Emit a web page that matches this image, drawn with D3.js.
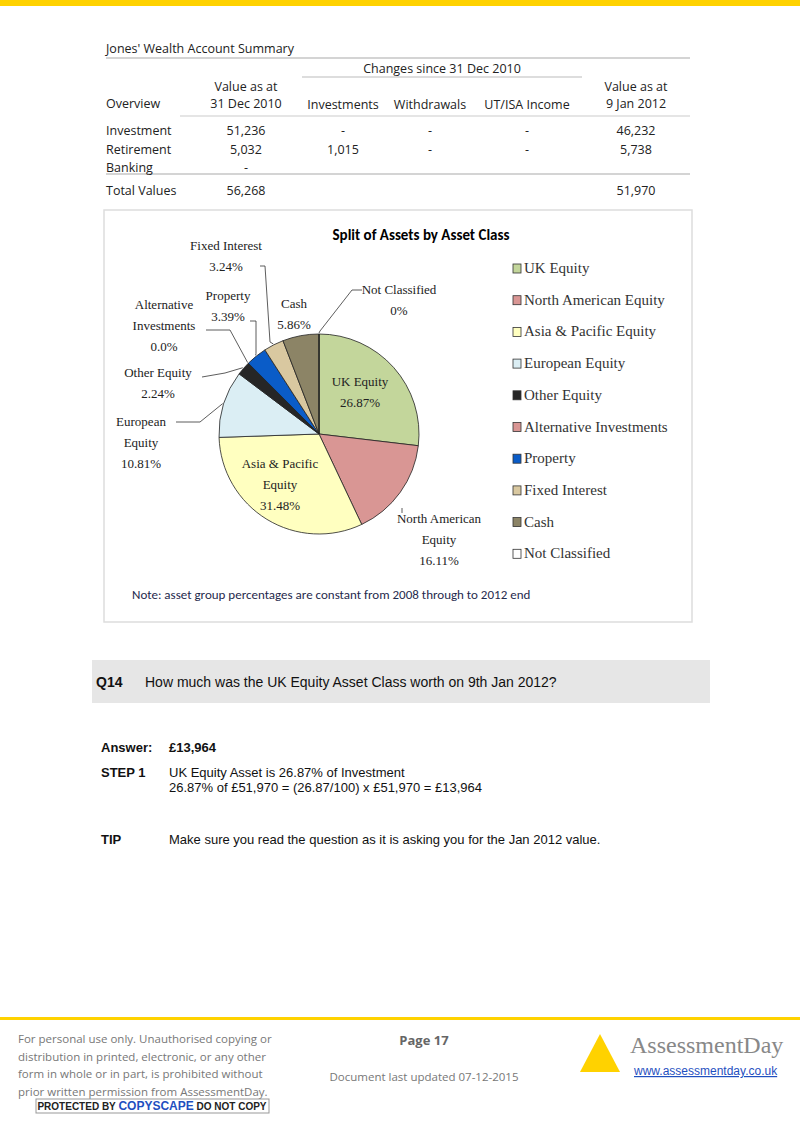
<!DOCTYPE html>
<html><head><meta charset="utf-8">
<script src="https://cdn.jsdelivr.net/npm/d3@7"></script>
<style>body{margin:0;background:#fff}svg{display:block}</style>
</head><body>
<svg id="s" width="800" height="1132"></svg>
<script>
const categories=["UK Equity","North American Equity","Asia & Pacific Equity","European Equity","Other Equity","Alternative Investments","Property","Fixed Interest","Cash","Not Classified"];
const values=[26.87,16.11,31.48,10.81,2.24,0.0,3.39,3.24,5.86,0];
const colors=["#c3d69b","#d99694","#ffffc0","#dbeef4","#262626","#d99694","#0a5cc8","#d9c8a0","#8c8466","#ffffff"];
const tableRows=[["Investment","51,236","-","-","-","46,232"],["Retirement","5,032","1,015","-","-","5,738"],["Banking","-","","","",""]];
const totals=["Total Values","56,268","","","","51,970"];

const svg=d3.select("#s");
const sans="Calibri, 'Liberation Sans', 'Open Sans', sans-serif";
const serif="'Liberation Serif', 'DejaVu Serif', serif";
svg.append("rect").attr("x",0).attr("y",0).attr("width",800).attr("height",6).attr("fill","#ffd200");

// Table
const T=svg.append("g").attr("font-family","'Open Sans', sans-serif").attr("font-size",12.5).attr("fill","#222");
T.append("text").attr("x",106).attr("y",53).text("Jones' Wealth Account Summary");
const hl=(x1,x2,y,c)=>T.append("line").attr("x1",x1).attr("x2",x2).attr("y1",y).attr("y2",y).attr("stroke",c||"#aaa").attr("stroke-width",1.2);
hl(106,690,58);hl(302,582,77,"#bbb");hl(180,690,116,"#ccc");hl(106,690,174);
const colX=[106,246,343,430,527,636];
T.append("text").attr("x",442).attr("y",73).attr("text-anchor","middle").text("Changes since 31 Dec 2010");
T.append("text").attr("x",246).attr("y",91).attr("text-anchor","middle").text("Value as at");
T.append("text").attr("x",246).attr("y",108).attr("text-anchor","middle").text("31 Dec 2010");
T.append("text").attr("x",636).attr("y",91).attr("text-anchor","middle").text("Value as at");
T.append("text").attr("x",636).attr("y",108).attr("text-anchor","middle").text("9 Jan 2012");
T.append("text").attr("x",106).attr("y",108).text("Overview");
["Investments","Withdrawals","UT/ISA Income"].forEach((t,i)=>T.append("text").attr("x",colX[i+2]).attr("y",109).attr("text-anchor","middle").text(t));
tableRows.forEach((r,j)=>r.forEach((c,i)=>T.append("text").attr("x",colX[i]).attr("y",135+j*18.5).attr("text-anchor",i?"middle":"start").text(c)));
totals.forEach((c,i)=>T.append("text").attr("x",colX[i]).attr("y",195).attr("text-anchor",i?"middle":"start").text(c));

// chart frame
svg.append("rect").attr("x",104).attr("y",210).attr("width",588).attr("height",412).attr("fill","#fff").attr("stroke","#ddd").attr("stroke-width",1.5);
svg.append("text").attr("x",421).attr("y",240).attr("text-anchor","middle").attr("font-family",sans).attr("font-weight","bold").attr("font-size",15).text("Split of Assets by Asset Class");

const cx=319,cy=434,R=100;
const pie=d3.pie().sort(null).value(d=>d)(values);
const arc=d3.arc().innerRadius(0).outerRadius(R);
const P=svg.append("g").attr("transform",`translate(${cx},${cy})`);
P.selectAll("path").data(pie).join("path").attr("d",arc).attr("fill",(d,i)=>colors[i]).attr("stroke","#222").attr("stroke-width",0.8);

const L=svg.append("g").attr("font-family",serif).attr("font-size",13).attr("fill","#222");
const lbl=(lines,x,y,anchor)=>lines.forEach((t,k)=>L.append("text").attr("x",x).attr("y",y+k*21).attr("text-anchor",anchor||"middle").text(t));
const pct=v=>v.toFixed(2)+"%";
lbl([categories[0],pct(values[0])],360,386);
lbl(["Asia & Pacific","Equity",pct(values[2])],280,468);
lbl(["North American","Equity",pct(values[1])],439,523);
lbl(["European","Equity",pct(values[3])],141,426);
lbl(["Other  Equity",pct(values[4])],158,377);
lbl(["Alternative","Investments","0.0%"],164,309);
lbl(["Property",pct(values[6])],228,300);
lbl(["Fixed  Interest",pct(values[7])],226,250);
lbl(["Cash",pct(values[8])],294,308);
lbl(["Not Classified","0%"],399,294);
// leader lines
const edge=(i,rr)=>{const a=(pie[i].startAngle+pie[i].endAngle)/2;return [cx+Math.sin(a)*(rr||R),cy-Math.cos(a)*(rr||R)];};
const lines=[[3,[[176,422],[200,422]]],[4,[[202,377],[225,373]]],[5,[[206,330],[230,330]]],[6,[[250,321],[256,321],[256,0]]],[7,[[260,266],[265,266],[270,0]]],[9,[[362,290],[352,290],[320,0]]]];
lines.forEach(([i,pts])=>{const e=edge(i,R+1);const p=pts.map(q=>[q[0],q[1]]);const last=p[p.length-1];if(last[1]===0){last[1]=e[1]-2;} p.push(e);
 L.append("path").attr("d",d3.line()(p)).attr("fill","none").attr("stroke","#333").attr("stroke-width",0.8);});
{const e=edge(1,R+1);L.append("path").attr("d",d3.line()([[402,508],[402,e[1]+20]])).attr("stroke","#333").attr("stroke-width",0.8);}

// legend
const G=svg.append("g").attr("font-family",serif).attr("font-size",15).attr("fill","#333");
categories.forEach((c,i)=>{const y=273+i*31.7;
 G.append("rect").attr("x",513).attr("y",y-9).attr("width",8).attr("height",9).attr("fill",colors[i]).attr("stroke","#333").attr("stroke-width",0.8);
 G.append("text").attr("x",524).attr("y",y).text(c);});
svg.append("text").attr("x",132).attr("y",599).attr("font-family",sans).attr("font-size",13).attr("fill","#1f2a4d").text("Note: asset group percentages are constant from 2008  through to 2012  end");

// Q box
svg.append("rect").attr("x",92).attr("y",660).attr("width",618).attr("height",43).attr("fill","#e6e6e6");
const A="'Liberation Sans', Arial, sans-serif";
const tx=(t,x,y,b,s)=>svg.append("text").attr("x",x).attr("y",y).attr("font-family",A).attr("font-size",s||13).attr("font-weight",b?"bold":"normal").attr("fill","#111").text(t);
tx("Q14",96,687,true,14);tx("How much was the UK Equity Asset Class worth on 9th Jan 2012?",145,687,false,14);
tx("Answer:",101,752,true);tx("£13,964",169,752,true);
tx("STEP 1",101,777,true);tx("UK Equity Asset is 26.87% of Investment",169,777);
tx("26.87% of £51,970 = (26.87/100) x £51,970 = £13,964",169,792);
tx("TIP",101,844,true);tx("Make sure you read the question as it is asking you for the Jan 2012 value.",169,844);

// footer
svg.append("rect").attr("x",0).attr("y",1017).attr("width",800).attr("height",3).attr("fill","#ffd200");
const F=svg.append("g").attr("font-family","'Open Sans', sans-serif").attr("font-size",11.5).attr("fill","#777");
["For personal use only. Unauthorised copying or","distribution in printed, electronic, or any other","form in whole or in part, is prohibited without","prior written permission from AssessmentDay."].forEach((t,i)=>F.append("text").attr("x",18).attr("y",1043+i*17.5).text(t));
F.append("text").attr("x",424).attr("y",1045).attr("text-anchor","middle").attr("font-weight","bold").attr("font-size",13).attr("fill","#666").text("Page 17");
F.append("text").attr("x",424).attr("y",1081).attr("text-anchor","middle").text("Document last updated 07-12-2015");
svg.append("rect").attr("x",36).attr("y",1099).attr("width",233).attr("height",14).attr("fill","#fff").attr("stroke","#999");
svg.append("text").attr("x",152).attr("y",1110).attr("text-anchor","middle").attr("font-family",A).attr("font-size",10).attr("font-weight","bold").attr("fill","#222").html('PROTECTED BY <tspan fill="#1f4fbf" font-size="12">COPYSCAPE</tspan> DO NOT COPY');
svg.append("path").attr("d","M580,1072 L600,1034 L620,1072 Z").attr("fill","#ffd200");
svg.append("text").attr("x",630).attr("y",1053).attr("font-family",serif).attr("font-size",24).attr("fill","#888").text("AssessmentDay");
svg.append("text").attr("x",634).attr("y",1075).attr("font-family",A).attr("font-size",12).attr("fill","#1f4fbf").attr("text-decoration","underline").text("www.assessmentday.co.uk");
</script></body></html>
